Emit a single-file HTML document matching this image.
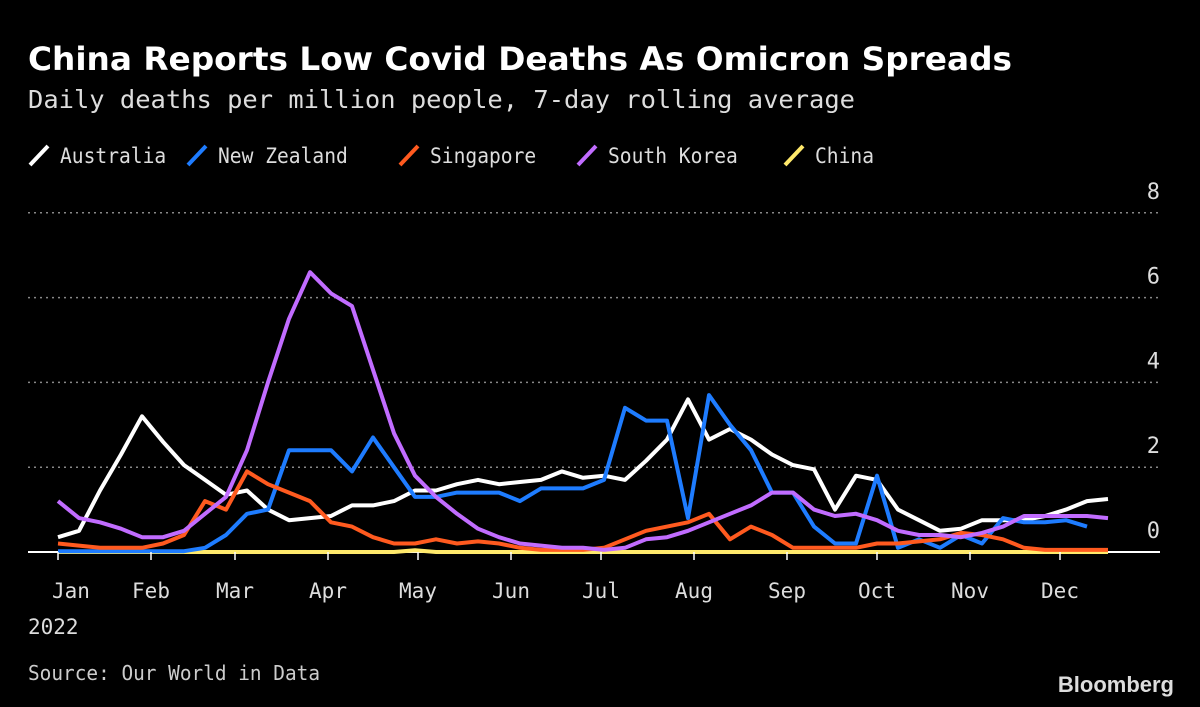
<!DOCTYPE html>
<html><head><meta charset="utf-8"><style>
body{margin:0;background:#000;width:1200px;height:707px;overflow:hidden;font-family:"Liberation Sans","DejaVu Sans",sans-serif;color:#fff}
</style></head><body>
<svg width="1200" height="707" style="position:absolute;left:0;top:0">
<text x="28" y="70" font-size="32" font-weight="bold" fill="#fff" font-family="DejaVu Sans, sans-serif" textLength="984" lengthAdjust="spacingAndGlyphs">China Reports Low Covid Deaths As Omicron Spreads</text>
<text x="28" y="108" font-size="25" fill="#ddd" font-family="DejaVu Sans Mono, monospace" textLength="827" lengthAdjust="spacingAndGlyphs">Daily deaths per million people, 7-day rolling average</text>
<g id="legend" font-family="DejaVu Sans Mono, monospace" font-size="21" fill="#ddd"></g>
<g id="grid"></g>
<g id="series"></g>
<g id="xaxis" font-family="DejaVu Sans Mono, monospace" font-size="21" fill="#ddd"></g>
<text x="28" y="680" font-size="20" fill="#ccc" font-family="DejaVu Sans Mono, monospace" textLength="292" lengthAdjust="spacingAndGlyphs">Source: Our World in Data</text>
<text x="1174" y="692" font-size="22" font-weight="bold" fill="#ddd" text-anchor="end">Bloomberg</text>
</svg>
<script>
const days=[0,7,14,21,28,35,42,49,56,63,70,77,84,91,98,105,112,119,126,133,140,147,154,161,168,175,182,189,196,203,210,217,224,231,238,245,252,259,266,273,280,287,294,301,308,315,322,329,336,343,350];
const australia=[0.35,0.5,1.45,2.3,3.2,2.6,2.05,1.7,1.35,1.45,1.0,0.75,0.8,0.85,1.1,1.1,1.2,1.45,1.45,1.6,1.7,1.6,1.65,1.7,1.9,1.75,1.8,1.7,2.15,2.65,3.6,2.65,2.9,2.65,2.3,2.05,1.95,1.0,1.8,1.7,1.0,0.75,0.5,0.55,0.75,0.75,0.75,0.85,1.0,1.2,1.25];
const newZealand=[0.02,0.02,0.02,0.02,0.02,0.02,0.02,0.1,0.4,0.9,1.0,2.4,2.4,2.4,1.9,2.7,2.0,1.3,1.3,1.4,1.4,1.4,1.2,1.5,1.5,1.5,1.7,3.4,3.1,3.1,0.8,3.7,3.0,2.4,1.4,1.4,0.6,0.2,0.2,1.8,0.1,0.3,0.1,0.4,0.2,0.8,0.7,0.7,0.75,0.6,null];
const singapore=[0.2,0.15,0.1,0.1,0.1,0.2,0.4,1.2,1.0,1.9,1.6,1.4,1.2,0.7,0.6,0.35,0.2,0.2,0.3,0.2,0.25,0.2,0.1,0.05,0.05,0.05,0.1,0.3,0.5,0.6,0.7,0.9,0.3,0.6,0.4,0.1,0.1,0.1,0.1,0.2,0.2,0.25,0.3,0.45,0.4,0.3,0.1,0.05,0.05,0.05,0.05];
const southKorea=[1.2,0.8,0.7,0.55,0.35,0.35,0.5,0.9,1.3,2.4,4.0,5.5,6.6,6.1,5.8,4.3,2.8,1.8,1.3,0.9,0.55,0.35,0.2,0.15,0.1,0.1,0.05,0.1,0.3,0.35,0.5,0.7,0.9,1.1,1.4,1.4,1.0,0.85,0.9,0.75,0.5,0.4,0.4,0.35,0.45,0.6,0.85,0.85,0.85,0.85,0.8];
const china=[0,0,0,0,0,0,0,0,0,0,0,0,0,0,0,0,0,0.04,0,0,0,0,0,0,0,0,0,0,0,0,0,0,0,0,0,0,0,0,0,0,0,0,0,0,0,0,0,0,0,0,0];
const yTicks=[0,2,4,6,8];
const months=["Jan","Feb","Mar","Apr","May","Jun","Jul","Aug","Sep","Oct","Nov","Dec"];
const monthDays=[0,31,59,90,120,151,181,212,243,273,304,334];
const seriesNames=["Australia","New Zealand","Singapore","South Korea","China"];
const seriesColors=["#ffffff","#1e7cff","#ff5a1f","#c16cff","#ffe96b"];
const seriesData=[australia,newZealand,singapore,southKorea,china];
const NS="http://www.w3.org/2000/svg";
const X=d=>58+d*3.0, Y=v=>552-v*42.4;
function mk(t,a,p){const e=document.createElementNS(NS,t);for(const k in a)e.setAttribute(k,a[k]);p.appendChild(e);return e;}
const grid=document.getElementById('grid');
yTicks.forEach(t=>{
  const l=mk('line',{x1:28,x2:1160,y1:Y(t),y2:Y(t),stroke:t===0?'#fff':'#888','stroke-width':t===0?2:1.5,'stroke-dasharray':t===0?'':'2,4'},grid);
  
  
  const tx=mk('text',{x:1160,y:Y(t)-14,'text-anchor':'end','font-size':22,fill:'#ddd','font-family':'DejaVu Sans Mono, monospace'},grid);
  tx.textContent=t;
  
  
});
const xa=document.getElementById('xaxis');
months.forEach((m,i)=>{
  const x=X(monthDays[i]);
  const tk=mk('line',{x1:x,x2:x,y1:552,y2:560,stroke:'#fff','stroke-width':1.5},xa);
  
  
  const tx=mk('text',{x:i===0?x-6:x,y:598,'text-anchor':i===0?'start':'middle'},xa);
  tx.textContent=m;
  
  
});
const yr=mk('text',{x:28,y:634},xa);yr.textContent='2022';


const sg=document.getElementById('series');
[4,0,1,2,3].forEach(i=>{
  let d='',pen=false;
  seriesData[i].forEach((v,j)=>{if(v===null){pen=false;return;}d+=(pen?'L':'M')+X(days[j]).toFixed(1)+','+Y(v).toFixed(1);pen=true;});
  const p=mk('path',{d:d,fill:'none',stroke:seriesColors[i],'stroke-width':4,'stroke-linejoin':'round'},sg);
  
  
});
const lg=document.getElementById('legend');
const lx=[30,188,400,578,785];
seriesNames.forEach((n,i)=>{
  const g=mk('g',{},lg);
  
  
  mk('line',{x1:lx[i],y1:165,x2:lx[i]+18,y2:146,stroke:seriesColors[i],'stroke-width':4},g);
  const t=mk('text',{x:lx[i]+30,y:163,textLength:n.length*11.8,lengthAdjust:'spacingAndGlyphs'},g);t.textContent=n;
});
</script>
</body></html>
